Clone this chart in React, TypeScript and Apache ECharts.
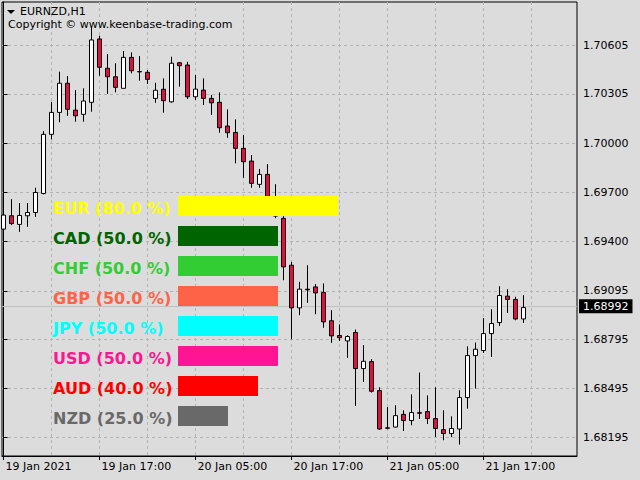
import React, { useEffect, useRef } from "react";
import * as echarts from "echarts";

// Time axis labels (bar index -> label)
const tickBars = [0, 12, 24, 36, 48, 60];
const tickLabels = ["19 Jan 2021", "19 Jan 17:00", "20 Jan 05:00", "20 Jan 17:00", "21 Jan 05:00", "21 Jan 17:00"];
const gridBars = [0, 6, 12, 18, 24, 30, 36, 42, 48, 54, 60, 66];

// Price axis labels
const priceTicks = [1.68195, 1.68495, 1.68795, 1.69095, 1.694, 1.697, 1.7, 1.70305, 1.70605];
const lastPrice = 1.68992;

// EURNZD H1 candles
const opens = [
  1.69474, 1.69556, 1.69503, 1.69556, 1.69576, 1.69693, 1.70056, 1.70191, 1.7037, 1.70205,
  1.70179, 1.70253, 1.70642, 1.70462, 1.7041, 1.70339, 1.70529, 1.70442, 1.70437, 1.70277,
  1.70333, 1.70256, 1.70496, 1.70482, 1.70287, 1.70328, 1.70277, 1.70253, 1.70107, 1.70068,
  1.6997, 1.69892, 1.69749, 1.6981, 1.69566, 1.6954, 1.69252, 1.6899, 1.69105, 1.69119,
  1.69085, 1.68911, 1.6882, 1.68787, 1.68839, 1.68617, 1.6866, 1.68482, 1.68253, 1.68258,
  1.68336, 1.68298, 1.68346, 1.68353, 1.6831, 1.68242, 1.68218, 1.68246, 1.68439, 1.68697,
  1.68728, 1.68832, 1.689, 1.69062, 1.69042, 1.68922,
];
const closes = [
  1.6956, 1.69508, 1.69558, 1.69576, 1.69699, 1.70056, 1.70191, 1.7037, 1.7021, 1.7017,
  1.70261, 1.70636, 1.70468, 1.7041, 1.70345, 1.70529, 1.70447, 1.7044, 1.70394, 1.70327,
  1.70263, 1.70493, 1.70478, 1.70287, 1.70334, 1.70277, 1.7025, 1.70097, 1.70066, 1.6997,
  1.69888, 1.69755, 1.6981, 1.69615, 1.69554, 1.69242, 1.6899, 1.69105, 1.69101, 1.69082,
  1.68904, 1.68818, 1.68807, 1.68814, 1.68617, 1.68662, 1.68478, 1.68246, 1.68251, 1.68328,
  1.68298, 1.68347, 1.68343, 1.6831, 1.68249, 1.68218, 1.68249, 1.68439, 1.68697, 1.68736,
  1.68832, 1.68894, 1.69066, 1.69042, 1.68922, 1.68992,
];
const lows = [
  1.69394, 1.69498, 1.69457, 1.69488, 1.69549, 1.69687, 1.70025, 1.7013, 1.7017, 1.70134,
  1.70134, 1.70195, 1.70416, 1.70304, 1.70314, 1.70339, 1.70431, 1.70386, 1.70365, 1.7025,
  1.70189, 1.70251, 1.70349, 1.70273, 1.70267, 1.70236, 1.70175, 1.70066, 1.70035, 1.69878,
  1.69789, 1.69728, 1.69728, 1.69591, 1.69541, 1.6916, 1.68797, 1.68945, 1.69021, 1.68951,
  1.68868, 1.68775, 1.68787, 1.68683, 1.68387, 1.68535, 1.6847, 1.68242, 1.68244, 1.68255,
  1.68234, 1.68269, 1.68308, 1.68277, 1.68197, 1.68177, 1.68197, 1.6815, 1.68371, 1.68494,
  1.68713, 1.68689, 1.68879, 1.68959, 1.68914, 1.68898,
];
const highs = [
  1.69572, 1.69658, 1.69634, 1.69634, 1.69728, 1.70076, 1.70256, 1.70441, 1.70414, 1.70328,
  1.70339, 1.7071, 1.70662, 1.7055, 1.70493, 1.70568, 1.7056, 1.70537, 1.70451, 1.70373,
  1.704, 1.70533, 1.705, 1.70502, 1.70421, 1.704, 1.70298, 1.70314, 1.7021, 1.70148,
  1.70052, 1.69929, 1.69843, 1.69873, 1.6975, 1.6956, 1.69273, 1.6915, 1.69252, 1.69136,
  1.6914, 1.68976, 1.68889, 1.68822, 1.68857, 1.68761, 1.68675, 1.68502, 1.68381, 1.68392,
  1.68361, 1.68459, 1.68593, 1.68453, 1.68502, 1.68361, 1.68324, 1.68484, 1.68754, 1.68777,
  1.68927, 1.68982, 1.69123, 1.69105, 1.69058, 1.69068,
];

// Currency strength overlay
const currencies = ["EUR", "CAD", "CHF", "GBP", "JPY", "USD", "AUD", "NZD"];
const strengths = [80, 50, 50, 50, 50, 50, 40, 25];
const currencyColors = ["#ffff00", "#006400", "#32cd32", "#ff6347", "#00ffff", "#ff1493", "#ff0000", "#696969"];

const FONT = "DejaVu Sans";

export default function App() {
  const ref = useRef<HTMLDivElement>(null);

  useEffect(() => {
    if (!ref.current) return;
    const chart = echarts.init(ref.current, undefined, { renderer: "svg" });

    const candleData = opens.map((o, i) => [i, o, closes[i], lows[i], highs[i]]);

    const rich: Record<string, any> = {};
    currencyColors.forEach((c, i) => {
      rich["c" + i] = {
        color: c,
        fontFamily: FONT,
        fontWeight: "bold",
        fontSize: 16,
        padding: [4, 0, 0, 0],
      };
    });

    const option: any = {
      animation: false,
      backgroundColor: "#dcdcdc",
      title: [
        {
          text: "EURNZD,H1",
          left: 20,
          top: 6,
          padding: 0,
          textStyle: { fontFamily: FONT, fontSize: 11, fontWeight: "normal", color: "#000" },
        },
        {
          text: "Copyright © www.keenbase-trading.com",
          left: 8,
          top: 19,
          padding: 0,
          textStyle: { fontFamily: FONT, fontSize: 11, fontWeight: "normal", color: "#000" },
        },
      ],
      graphic: [
        {
          type: "polygon",
          shape: { points: [[7, 10], [15, 10], [11, 14]] },
          style: { fill: "#000" },
          z: 100,
        },
      ],
      grid: [
        {
          left: 2,
          right: 63,
          top: 2,
          bottom: 24,
          show: true,
          borderColor: "#000",
          borderWidth: 1,
          backgroundColor: "transparent",
        },
        { left: 178, top: 191, width: 200, height: 240, show: false },
      ],
      xAxis: [
        {
          type: "value",
          gridIndex: 0,
          min: -0.1875,
          max: 71.6875,
          axisLine: { show: true, lineStyle: { color: "#000" } },
          axisTick: { show: true, length: 4, customValues: tickBars, lineStyle: { color: "#000" } },
          splitLine: { show: false },
          axisLabel: {
            customValues: tickBars,
            align: "left",
            margin: 5,
            padding: [0, 0, 0, 2],
            color: "#000",
            fontFamily: FONT,
            fontSize: 11,
            formatter: (v: number) => {
              const k = tickBars.indexOf(Math.round(v));
              return k >= 0 ? tickLabels[k] : "";
            },
          },
        },
        {
          type: "value",
          gridIndex: 0,
          position: "top",
          min: -0.1875,
          max: 71.6875,
          axisLine: { show: false },
          axisTick: { show: false, customValues: gridBars },
          axisLabel: { show: false },
          splitLine: { show: true, lineStyle: { color: "#b4b4b4", type: [3, 3], width: 1 } },
        },
        { type: "value", gridIndex: 1, min: 0, max: 100, show: false },
      ],
      yAxis: [
        {
          type: "value",
          gridIndex: 0,
          position: "right",
          min: 1.680801,
          max: 1.708692,
          axisLine: { show: true, lineStyle: { color: "#000" } },
          axisTick: { show: true, length: 4, customValues: priceTicks, lineStyle: { color: "#000" } },
          splitLine: { show: true, lineStyle: { color: "#b4b4b4", type: [3, 3], width: 1 } },
          axisLabel: {
            customValues: priceTicks,
            margin: 6,
            color: "#000",
            fontFamily: FONT,
            fontSize: 11,
            formatter: (v: number) => v.toFixed(5),
          },
        },
        {
          type: "category",
          gridIndex: 1,
          inverse: true,
          data: currencies,
          axisLine: { show: false },
          axisTick: { show: false },
          splitLine: { show: false },
          axisLabel: {
            align: "left",
            margin: 125,
            fontFamily: FONT,
            fontWeight: "bold",
            fontSize: 16,
            formatter: (value: string, idx: number) =>
              `{c${idx}|${value} (${strengths[idx].toFixed(1)} %)}`,
            rich,
          },
        },
      ],
      series: [
        {
          type: "candlestick",
          xAxisIndex: 0,
          yAxisIndex: 0,
          data: candleData,
          encode: { x: 0, y: [1, 2, 3, 4] },
          barWidth: 4,
          itemStyle: {
            color: "#ffffff",
            color0: "#dc143c",
            borderColor: "#000000",
            borderColor0: "#000000",
            borderColorDoji: "#000000",
            borderWidth: 1,
          },
          markLine: {
            silent: true,
            symbol: ["none", "none"],
            animation: false,
            lineStyle: { color: "#c0c0c0", type: "solid", width: 1 },
            label: {
              show: true,
              position: "end",
              distance: 2,
              formatter: () => lastPrice.toFixed(5),
              color: "#fff",
              backgroundColor: "#000",
              padding: [2, 4, 1, 4],
              fontFamily: FONT,
              fontSize: 11,
            },
            data: [{ yAxis: lastPrice }],
            z: 1,
          },
        },
        {
          type: "bar",
          xAxisIndex: 2,
          yAxisIndex: 1,
          barWidth: 20,
          z: 10,
          data: strengths.map((v, i) => ({ value: v, itemStyle: { color: currencyColors[i] } })),
        },
      ],
    };

    chart.setOption(option);
    return () => chart.dispose();
  }, []);

  return (
    <div
      ref={ref}
      style={{ position: "fixed", left: 0, top: 0, width: 640, height: 480 }}
    />
  );
}
